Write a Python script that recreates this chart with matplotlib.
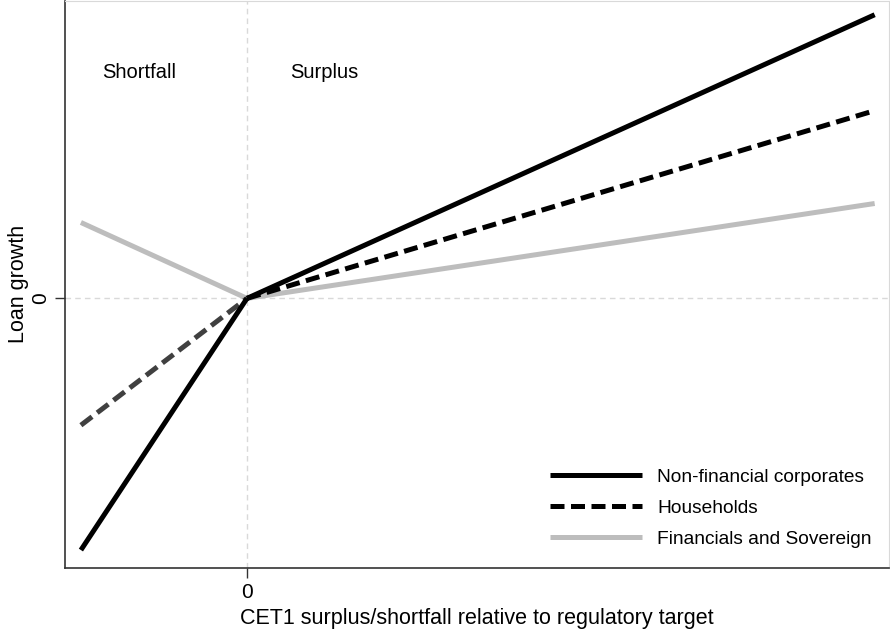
import matplotlib.pyplot as plt

plt.rcParams["font.family"] = ["Liberation Sans", "DejaVu Sans"]

# CET1 surplus/shortfall (x) and loan growth (y), arbitrary units
x_short = [-1.0, 0.0]
x_surplus = [0.0, 3.78]

nfc_short = [-2.52, 0.0]
nfc_surplus = [0.0, 2.84]
hh_short = [-1.27, 0.0]
hh_surplus = [0.0, 1.88]
fin_short = [0.76, 0.0]
fin_surplus = [0.0, 0.95]

labels = ["Non-financial corporates", "Households", "Financials and Sovereign"]

fig = plt.figure(figsize=(8.9, 6.31), dpi=100)
ax = fig.add_axes([0.073, 0.0998, 0.926, 0.899])

lw = 3.6
dash = (0, (2.8, 1.3))

ax.axvline(0, color="#d9d9d9", linestyle=(0, (4, 3)), linewidth=1, zorder=1)
ax.axhline(0, color="#d9d9d9", linestyle=(0, (4, 3)), linewidth=1, zorder=1)

ax.plot(x_short, fin_short, color="#bdbdbd", linewidth=lw, solid_capstyle="butt", zorder=2)
ax.plot(x_short, hh_short, color="#404040", linewidth=lw, linestyle=dash, zorder=3)
ax.plot(x_short, nfc_short, color="black", linewidth=lw, solid_capstyle="butt", zorder=4)

ax.plot(x_surplus, fin_surplus, color="#bdbdbd", linewidth=lw, solid_capstyle="butt",
        label=labels[2], zorder=2)
ax.plot(x_surplus, hh_surplus, color="black", linewidth=lw, linestyle=dash,
        label=labels[1], zorder=3)
ax.plot(x_surplus, nfc_surplus, color="black", linewidth=lw, solid_capstyle="butt",
        label=labels[0], zorder=4)

ax.set_xlim(-1.096, 3.867)
ax.set_ylim(-2.70, 2.98)
ax.set_xticks([0])
ax.set_yticks([0])
ax.set_xticklabels(["0"], fontsize=15)
ax.set_yticklabels(["0"], fontsize=15, rotation=90, va="center")
ax.tick_params(axis="both", direction="out", length=7, width=1, pad=4, colors="#333333",
               labelcolor="black")

for side in ["top", "right"]:
    ax.spines[side].set_color("#d9d9d9")
for side in ["left", "bottom"]:
    ax.spines[side].set_color("#333333")
    ax.spines[side].set_linewidth(1.2)

ax.set_xlabel("CET1 surplus/shortfall relative to regulatory target", fontsize=15.5, labelpad=4)
ax.set_ylabel("Loan growth", fontsize=15.5, labelpad=1)

ax.text(-0.87, 2.26, "Shortfall", fontsize=14.5, va="center")
ax.text(0.26, 2.26, "Surplus", fontsize=14.5, va="center")

handles, labs = ax.get_legend_handles_labels()
order = [2, 1, 0]
ax.legend([handles[i] for i in order], [labs[i] for i in order],
          loc="lower right", frameon=False, fontsize=13.8, handlelength=4.8,
          labelspacing=0.72, handletextpad=0.8, bbox_to_anchor=(1.0, 0.005))

plt.savefig("out.png", dpi=100)
